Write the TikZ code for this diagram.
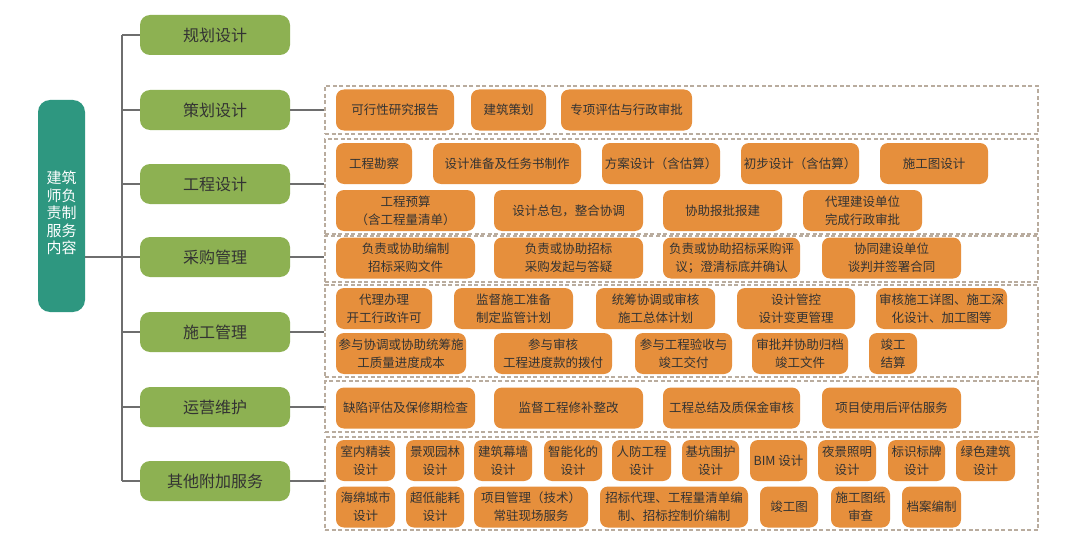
\documentclass[tikz,border=0pt]{standalone}
\usepackage{fontspec}
\setmainfont{Noto Sans CJK SC}

\definecolor{rootteal}{RGB}{46,151,128}
\definecolor{phasegreen}{RGB}{141,177,82}
\definecolor{taskorange}{RGB}{230,143,60}
\definecolor{groupdash}{RGB}{185,172,158}
\definecolor{linkgrey}{RGB}{110,110,110}
\definecolor{textdark}{RGB}{51,51,51}

\tikzset{
	rootbox/.style = {rectangle, rounded corners = 12pt, fill = rootteal,
		minimum width = 47pt, minimum height = 212pt, inner sep = 0pt},
	rootlabel/.style = {text = white, inner sep = 0pt, align = center,
		font = \fontsize{15}{17.5}\selectfont},
	phase/.style = {rectangle, rounded corners = 10pt, fill = phasegreen, text = textdark,
		minimum width = 150pt, minimum height = 40pt, inner sep = 0pt,
		font = \fontsize{16}{19}\selectfont},
	group/.style = {rectangle, draw = groupdash, line width = 1.2pt,
		dash pattern = on 4pt off 2.5pt, minimum width = 713pt, inner sep = 0pt},
	task/.style = {rectangle, rounded corners = 8pt, fill = taskorange, text = textdark,
		minimum height = 41pt, inner sep = 0pt, align = center,
		font = \fontsize{12.5}{18}\selectfont},
	link/.style = {draw = linkgrey, line width = 1.2pt}
}

\begin{document}
\begin{tikzpicture}[x = 1pt, y = -1pt]

	\useasboundingbox [fill = white] (0, 0) rectangle (1080, 543);

	% Root and phases

	\node [rootbox] (root) at (61.5, 206) {};
	\node [rootlabel] (roottext) at (61.5, 213) {建筑\\师负\\责制\\服务\\内容};

	\node [phase] (plan)    at (215, 35)  {规划设计};
	\node [phase] (strat)   at (215, 110) {策划设计};
	\node [phase] (design)  at (215, 184) {工程设计};
	\node [phase] (procure) at (215, 257) {采购管理};
	\node [phase] (build)   at (215, 332) {施工管理};
	\node [phase] (operate) at (215, 407) {运营维护};
	\node [phase] (extra)   at (215, 481) {其他附加服务};

	% Trunk and branches

	\coordinate (trunktop) at (122, 35);
	\coordinate (trunkbot) at (122, 481);

	\draw [link] (trunktop) -- (trunkbot);
	\draw [link] (root.east |- procure) -- (trunktop |- procure);
	\foreach \p in {plan, strat, design, procure, build, operate, extra}
		\draw [link] (trunktop |- \p) -- (\p.west);

	% Dashed groups

	\node [group, minimum height = 48pt] (gstrat)   at (681.5, 110)   {};
	\node [group, minimum height = 95pt] (gdesign)  at (681.5, 186.5) {};
	\node [group, minimum height = 46pt] (gprocure) at (681.5, 259)   {};
	\node [group, minimum height = 92pt] (gbuild)   at (681.5, 331)   {};
	\node [group, minimum height = 51pt] (goperate) at (681.5, 406.5) {};
	\node [group, minimum height = 93pt] (gextra)   at (681.5, 483.5) {};

	\draw [link] (strat.east)   -- (strat.east -| gstrat.west);
	\draw [link] (design.east)  -- (design.east -| gdesign.west);
	\draw [link] (procure.east) -- (procure.east -| gprocure.west);
	\draw [link] (build.east)   -- (build.east -| gbuild.west);
	\draw [link] (operate.east) -- (operate.east -| goperate.west);
	\draw [link] (extra.east)   -- (extra.east -| gextra.west);

	% Strategy tasks

	\node [task, minimum width = 118pt] (s1) at (395, 110)   {可行性研究报告};
	\node [task, minimum width = 75pt]  (s2) at (508.5, 110) {建筑策划};
	\node [task, minimum width = 131pt] (s3) at (626.5, 110) {专项评估与行政审批};

	% Design tasks

	\node [task, minimum width = 76pt]  (d1) at (374, 163.5)   {工程勘察};
	\node [task, minimum width = 148pt] (d2) at (507, 163.5)   {设计准备及任务书制作};
	\node [task, minimum width = 118pt] (d3) at (661, 163.5)   {方案设计（含估算）};
	\node [task, minimum width = 118pt] (d4) at (800, 163.5)   {初步设计（含估算）};
	\node [task, minimum width = 108pt] (d5) at (934, 163.5)   {施工图设计};
	\node [task, minimum width = 139pt] (d6) at (405.5, 210.5) {工程预算\\（含工程量清单）};
	\node [task, minimum width = 149pt] (d7) at (568.5, 210.5) {设计总包，整合协调};
	\node [task, minimum width = 119pt] (d8) at (722.5, 210.5) {协助报批报建};
	\node [task, minimum width = 119pt] (d9) at (862.5, 210.5) {代理建设单位\\完成行政审批};

	% Procurement tasks

	\node [task, minimum width = 139pt] (p1) at (405.5, 258) {负责或协助编制\\招标采购文件};
	\node [task, minimum width = 149pt] (p2) at (568.5, 258) {负责或协助招标\\采购发起与答疑};
	\node [task, minimum width = 137pt] (p3) at (731.5, 258) {负责或协助招标采购评\\议；澄清标底并确认};
	\node [task, minimum width = 139pt] (p4) at (891.5, 258) {协同建设单位\\谈判并签署合同};

	% Construction tasks

	\node [task, minimum width = 96pt]  (b1)  at (384, 308.5)   {代理办理\\开工行政许可};
	\node [task, minimum width = 119pt] (b2)  at (513.5, 308.5) {监督施工准备\\制定监管计划};
	\node [task, minimum width = 119pt] (b3)  at (655.5, 308.5) {统筹协调或审核\\施工总体计划};
	\node [task, minimum width = 118pt] (b4)  at (796, 308.5)   {设计管控\\设计变更管理};
	\node [task, minimum width = 131pt] (b5)  at (941.5, 308.5) {审核施工详图、施工深\\化设计、加工图等};
	\node [task, minimum width = 130pt] (b6)  at (401, 353.5)   {参与协调或协助统筹施\\工质量进度成本};
	\node [task, minimum width = 118pt] (b7)  at (553, 353.5)   {参与审核\\工程进度款的拨付};
	\node [task, minimum width = 97pt]  (b8)  at (683.5, 353.5) {参与工程验收与\\竣工交付};
	\node [task, minimum width = 96pt]  (b9)  at (800, 353.5)   {审批并协助归档\\竣工文件};
	\node [task, minimum width = 48pt]  (b10) at (893, 353.5)   {竣工\\结算};

	% Operation tasks

	\node [task, minimum width = 139pt] (o1) at (405.5, 408) {缺陷评估及保修期检查};
	\node [task, minimum width = 149pt] (o2) at (568.5, 408) {监督工程修补整改};
	\node [task, minimum width = 137pt] (o3) at (731.5, 408) {工程总结及质保金审核};
	\node [task, minimum width = 139pt] (o4) at (891.5, 408) {项目使用后评估服务};

	% Additional services

	\node [task, minimum width = 59pt]  (e1)  at (365.5, 460.5) {室内精装\\设计};
	\node [task, minimum width = 58pt]  (e2)  at (435, 460.5)   {景观园林\\设计};
	\node [task, minimum width = 58pt]  (e3)  at (503, 460.5)   {建筑幕墙\\设计};
	\node [task, minimum width = 58pt]  (e4)  at (573, 460.5)   {智能化的\\设计};
	\node [task, minimum width = 59pt]  (e5)  at (641.5, 460.5) {人防工程\\设计};
	\node [task, minimum width = 57pt]  (e6)  at (710.5, 460.5) {基坑围护\\设计};
	\node [task, minimum width = 57pt]  (e7)  at (778.5, 460.5) {BIM 设计};
	\node [task, minimum width = 58pt]  (e8)  at (847, 460.5)   {夜景照明\\设计};
	\node [task, minimum width = 57pt]  (e9)  at (916.5, 460.5) {标识标牌\\设计};
	\node [task, minimum width = 59pt]  (e10) at (985.5, 460.5) {绿色建筑\\设计};
	\node [task, minimum width = 59pt]  (e11) at (365.5, 507)   {海绵城市\\设计};
	\node [task, minimum width = 58pt]  (e12) at (435, 507)     {超低能耗\\设计};
	\node [task, minimum width = 114pt] (e13) at (531, 507)     {项目管理（技术）\\常驻现场服务};
	\node [task, minimum width = 148pt] (e14) at (674, 507)     {招标代理、工程量清单编\\制、招标控制价编制};
	\node [task, minimum width = 58pt]  (e15) at (789, 507)     {竣工图};
	\node [task, minimum width = 59pt]  (e16) at (860.5, 507)   {施工图纸\\审查};
	\node [task, minimum width = 59pt]  (e17) at (931.5, 507)   {档案编制};

\end{tikzpicture}
\end{document}
